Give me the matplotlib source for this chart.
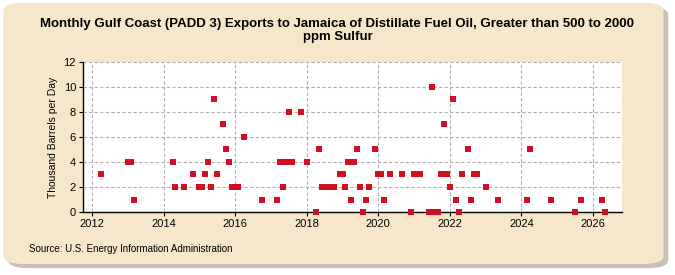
import matplotlib.pyplot as plt
from matplotlib.patches import FancyBboxPatch

# Monthly exports, thousand barrels per day (year-month, value)
months = ["2012-04", "2013-01", "2013-02", "2013-03", "2014-04", "2014-05", "2014-08",
          "2014-11", "2015-01", "2015-02", "2015-03", "2015-04", "2015-05", "2015-06",
          "2015-07", "2015-09", "2015-10", "2015-11", "2015-12", "2016-02", "2016-04",
          "2016-10", "2017-03", "2017-04", "2017-05", "2017-06", "2017-07", "2017-08",
          "2017-11", "2018-01", "2018-04", "2018-05", "2018-06", "2018-08", "2018-10",
          "2018-12", "2019-01", "2019-02", "2019-03", "2019-04", "2019-05", "2019-06",
          "2019-07", "2019-08", "2019-09", "2019-10", "2019-12", "2020-01", "2020-02",
          "2020-03", "2020-05", "2020-09", "2020-12", "2021-01", "2021-03", "2021-06",
          "2021-07", "2021-08", "2021-09", "2021-10", "2021-11", "2021-12", "2022-01",
          "2022-02", "2022-03", "2022-04", "2022-05", "2022-07", "2022-08", "2022-09",
          "2022-10", "2023-01", "2023-05", "2024-03", "2024-04", "2024-11", "2025-07",
          "2025-09", "2026-04", "2026-05"]
values = [3, 4, 4, 1, 4, 2, 2,
          3, 2, 2, 3, 4, 2, 9,
          3, 7, 5, 4, 2, 2, 6,
          1, 1, 4, 2, 4, 8, 4,
          8, 4, 0, 5, 2, 2, 2,
          3, 3, 2, 4, 1, 4, 5,
          2, 0, 1, 2, 5, 3, 3,
          1, 3, 3, 0, 3, 3, 0,
          10, 0, 0, 3, 7, 3, 2,
          9, 1, 0, 3, 5, 1, 3,
          3, 2, 1, 1, 5, 1, 0,
          1, 1, 0]
year_ticks = [2012, 2014, 2016, 2018, 2020, 2022, 2024, 2026]
y_ticks = [0, 2, 4, 6, 8, 10, 12]

x = [int(m[:4]) + (int(m[5:]) - 1) / 12 for m in months]

plt.rcParams['font.family'] = ['Liberation Sans', 'DejaVu Sans']

fig = plt.figure(figsize=(6.75, 2.75), dpi=100)
fig.patch.set_facecolor("white")

# panel shadow and panel
shadow = FancyBboxPatch((0.012, 0.025), 0.978, 0.95, boxstyle="round,pad=0,rounding_size=0.03",
                        transform=fig.transFigure, facecolor="#c8c0b4", edgecolor="none", zorder=-2)
panel = FancyBboxPatch((0.005, 0.04), 0.978, 0.95, boxstyle="round,pad=0,rounding_size=0.03",
                       transform=fig.transFigure, facecolor="#f6e7cb", edgecolor="none", zorder=-1)
fig.patches.extend([shadow, panel])

ax = fig.add_axes([0.123, 0.229, 0.798, 0.546])
ax.set_zorder(2)
ax.set_facecolor("white")
ax.scatter(x, values, marker="s", s=14, color="#d0101e", zorder=3, linewidths=0, clip_on=False)

ax.set_xlim(2011.75, 2026.8)
ax.set_ylim(0, 12)
ax.set_xticks(year_ticks)
ax.set_yticks(y_ticks)
ax.tick_params(labelsize=8, length=3, pad=2)
ax.grid(True, linestyle=(0, (3, 2)), color="#b0b0b0", linewidth=0.8)
ax.set_axisbelow(True)
for side in ["top", "right"]:
    ax.spines[side].set_visible(False)
ax.spines["left"].set_linewidth(1)
ax.spines["bottom"].set_linewidth(1)

ax.set_ylabel("Thousand Barrels per Day", fontsize=7.5)
fig.text(0.5, 0.935, "Monthly Gulf Coast (PADD 3) Exports to Jamaica of Distillate Fuel Oil, Greater than 500 to 2000\nppm Sulfur",
         ha="center", va="top", fontsize=9.5, fontweight="bold", linespacing=1.1)
fig.text(0.043, 0.085, "Source: U.S. Energy Information Administration", fontsize=7)

fig.savefig("out.png", dpi=100)
